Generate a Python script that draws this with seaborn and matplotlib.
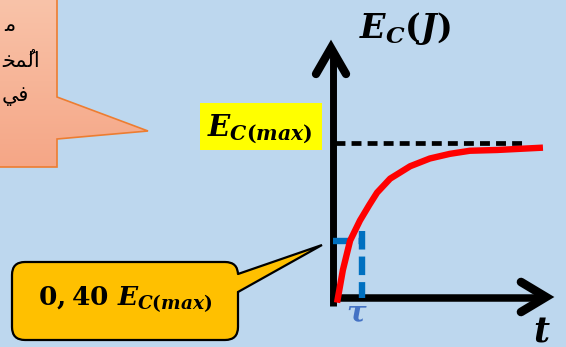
import numpy as np
import matplotlib
matplotlib.use('Agg')
import matplotlib.pyplot as plt
from matplotlib.patches import Polygon, Rectangle, FancyBboxPatch
import pandas as pd
import seaborn as sns

# charge curve (t in units of tau, Ec in units of Ec(max))
t_vals = [0.14, 0.34, 0.59, 0.93, 1.25, 1.52, 1.97, 2.66, 3.34, 4.03, 4.72, 5.66, 7.24]
e_vals = [-0.03, 0.18, 0.37, 0.50, 0.60, 0.68, 0.77, 0.85, 0.90, 0.93, 0.95, 0.955, 0.97]
tau = 1.0
level_tau = 0.37
e_max = 1.0

ylabel_txt = r'$E_C(J)$'
xlabel_txt = r'$t$'
tau_txt = r'$\tau$'
emax_txt = r'$E_{C(max)}$'
callout_txt = r'$0,40\ E_{C(max)}$'
# visible part of the arabic lines, already in visual (shaped, left-to-right) order
arabic_lines = [
    '\uFEE3',
    '\uFEA8\uFEE4\u064F\uFEDF\uFE8D',
    '\uFEF2\uFED3',
]

sns.set_theme(style='white')
plt.rcParams['font.family'] = ['DejaVu Sans']
plt.rcParams['text.color'] = 'black'
plt.rcParams['mathtext.fontset'] = 'custom'
plt.rcParams['mathtext.rm'] = 'DejaVu Serif:bold'
plt.rcParams['mathtext.it'] = 'DejaVu Serif:italic:bold'
plt.rcParams['mathtext.bf'] = 'DejaVu Serif:bold'

BG = '#BDD7EE'
fig = plt.figure(figsize=(5.66, 3.47), dpi=100)
fig.patch.set_facecolor(BG)

# decoration layer in pixel coordinates
bg = fig.add_axes([0, 0, 1, 1])
bg.set_xlim(0, 566)
bg.set_ylim(347, 0)
bg.axis('off')

# salmon callout with vertical gradient
pts = [(-5, -5), (57, -5), (57, 97), (148, 131), (57, 139), (57, 167), (-5, 167)]
poly = Polygon(pts, closed=True, facecolor='none', edgecolor='#ED7D31', lw=1.2, zorder=3)
bg.add_patch(poly)
top = np.array([0xF9, 0xC4, 0xAA]) / 255
bot = np.array([0xF5, 0xA6, 0x86]) / 255
g = np.linspace(0, 1, 200)[:, None, None]
grad = top * (1 - g) + bot * g
grad = np.repeat(grad, 2, axis=1)
im = bg.imshow(grad, extent=(-5, 150, 168, -5), origin='upper', aspect='auto', zorder=2)
im.set_clip_path(poly)
bg.set_xlim(0, 566)
bg.set_ylim(347, 0)

ar_pos = [(15, 31), (40, 67), (29, 101)]
for (x, y), line in zip(ar_pos, arabic_lines):
    bg.text(x, y, line, ha='right', va='baseline', fontsize=15, color='black', zorder=4)

# yellow callout
YEL = '#FFC000'
box = FancyBboxPatch((12, 262), 226, 78, boxstyle='round,pad=0,rounding_size=13',
                     facecolor=YEL, edgecolor='black', lw=1.6, zorder=3)
bg.add_patch(box)
bg.add_patch(Rectangle((234, 275), 8, 16, facecolor=YEL, edgecolor='none', zorder=4))
bg.add_patch(Polygon([(236, 274), (322, 245), (236, 292)], closed=True,
                     facecolor=YEL, edgecolor='none', zorder=4))
bg.plot([238, 322, 238], [274, 245, 292], color='black', lw=1.6, zorder=5,
        solid_joinstyle='miter')
bg.text(125, 305, callout_txt, ha='center', va='baseline', fontsize=19, color='black', zorder=6)

# highlighted Ec(max) label
bg.add_patch(Rectangle((200, 103), 122, 47, facecolor='#FFFF00', edgecolor='none', zorder=3))
bg.text(260, 136, emax_txt, ha='center', va='baseline', fontsize=21, color='black', zorder=4)

# axis titles
bg.text(405, 38, ylabel_txt, ha='center', va='baseline', fontsize=24, color='black', zorder=4)
bg.text(542, 341, xlabel_txt, ha='center', va='baseline', fontsize=25, color='black', zorder=4)
bg.text(357, 322, tau_txt, ha='center', va='baseline', fontsize=21, color='#4472C4', zorder=4)

# arrows of the axes
bg.plot([333, 333], [306, 50], color='black', lw=5.0, solid_capstyle='butt', zorder=6)
bg.plot([316, 331, 346], [74, 48, 74], color='black', lw=6.0,
        solid_capstyle='round', solid_joinstyle='miter', zorder=6)
bg.plot([330, 546], [298, 298], color='black', lw=5.4, solid_capstyle='butt', zorder=6)
bg.plot([521, 546, 521], [282, 297, 312], color='black', lw=6.2,
        solid_capstyle='round', solid_joinstyle='miter', zorder=6)

# chart layer: t/tau horizontally, Ec/Ec(max) vertically
ax = fig.add_axes([0, 0, 1, 1], zorder=2)
ax.patch.set_alpha(0)
ax.axis('off')
ax.set_xlim((0 - 333) / 29, (566 - 333) / 29)
ax.set_ylim((298 - 347) / 155, 298 / 155)

df = pd.DataFrame({'t': t_vals, 'E': e_vals})
sns.lineplot(data=df, x='t', y='E', sort=False, estimator=None, color='#FF0000',
             lw=4.6, ax=ax, zorder=5, solid_capstyle='butt')

sns.lineplot(x=[0.07, 6.55], y=[e_max, e_max], estimator=None, sort=False,
             color='black', lw=3.4, ls=(0, (2.1, 1.3)), ax=ax, zorder=3)
sns.lineplot(x=[tau, tau], y=[0.43, 0.0], estimator=None, sort=False,
             color='#0070C0', lw=4.6, ls=(0, (2.9, 1.1)), ax=ax, zorder=3)
sns.lineplot(x=[0.0, tau], y=[level_tau, level_tau], estimator=None, sort=False,
             color='#0070C0', lw=4.6, ls=(0, (2.9, 1.1)), ax=ax, zorder=3)

fig.savefig('out.png', dpi=100, facecolor=BG)
